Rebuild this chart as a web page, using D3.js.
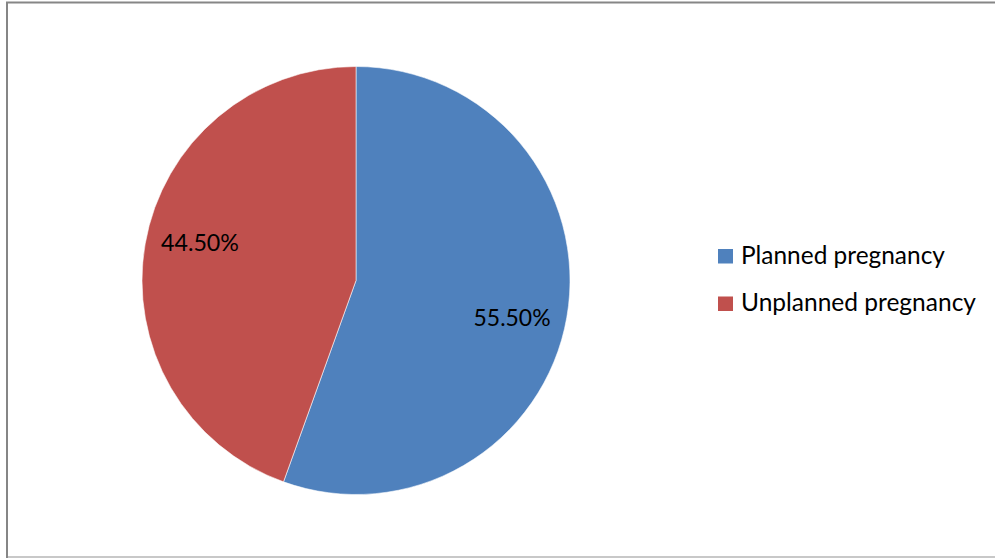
<!DOCTYPE html>
<html>
<head>
<meta charset="utf-8">
<script src="https://cdn.jsdelivr.net/npm/d3@7"></script>
<style>
  html, body { margin: 0; padding: 0; background: #fff; }
  svg { display: block; }
  text { font-family: Lato, "Open Sans", "Liberation Sans", sans-serif; fill: #000; }
</style>
</head>
<body>
<svg id="chart" width="995" height="558"></svg>
<script>
const categories = ["Planned pregnancy", "Unplanned pregnancy"];
const values = [55.5, 44.5];
const valueLabels = ["55.50%", "44.50%"];
const colors = ["#4F81BD", "#C0504D"];

const svg = d3.select("#chart");

// chart area border
svg.append("rect")
  .attr("x", 7).attr("y", 2.5).attr("width", 995).attr("height", 554.5)
  .attr("fill", "#fff").attr("stroke", "#868686").attr("stroke-width", 2);
svg.append("line").attr("x1", 8).attr("x2", 995).attr("y1", 557).attr("y2", 557)
  .attr("stroke", "#c8c8c8").attr("stroke-width", 2);

const cx = 356, cy = 280.5, r = 214;
const data = categories.map((c, i) => ({ name: c, value: values[i], label: valueLabels[i], color: colors[i] }));

const pie = d3.pie().value(d => d.value).sort(null).startAngle(0).endAngle(2 * Math.PI);
const arc = d3.arc().innerRadius(0).outerRadius(r);
const arcs = pie(data);

const g = svg.append("g").attr("transform", `translate(${cx},${cy})`);
g.selectAll("path").data(arcs).enter().append("path")
  .attr("d", arc)
  .attr("fill", d => d.data.color)
  .attr("stroke", "#fff").attr("stroke-width", 0.8).attr("stroke-opacity", 0.7);

function fitText(sel, targetWidth, baseSize) {
  sel.attr("font-size", baseSize);
  const w = sel.node().getComputedTextLength();
  const s = baseSize * targetWidth / w;
  sel.attr("font-size", s);
  return s;
}

// data labels (inside, toward outer edge)
const labelArc = d3.arc().innerRadius(r * 0.75).outerRadius(r * 0.75);
const labelShift = 0.063;
const labelWidths = [77, 78];
arcs.forEach((a, i) => {
  const [lx, ly] = labelArc.centroid({ startAngle: a.startAngle + labelShift, endAngle: a.endAngle + labelShift });
  const t = g.append("text")
    .attr("x", lx).attr("y", ly)
    .attr("text-anchor", "middle")
    .text(a.data.label);
  const s = fitText(t, labelWidths[i], 22);
  t.attr("dy", (0.36 * s) + "px");
});

// legend
const legendX = 718, legendY0 = 249, legendStep = 47.5;
const legendWidths = [204, 235];
const lg = svg.append("g");
data.forEach((d, i) => {
  const y = legendY0 + i * legendStep;
  lg.append("rect").attr("x", legendX).attr("y", y).attr("width", 15).attr("height", 14.5).attr("fill", d.color);
  const t = lg.append("text").attr("x", legendX + 23).attr("y", y + 14.5).text(d.name);
  fitText(t, legendWidths[i], 22);
});
</script>
</body>
</html>
